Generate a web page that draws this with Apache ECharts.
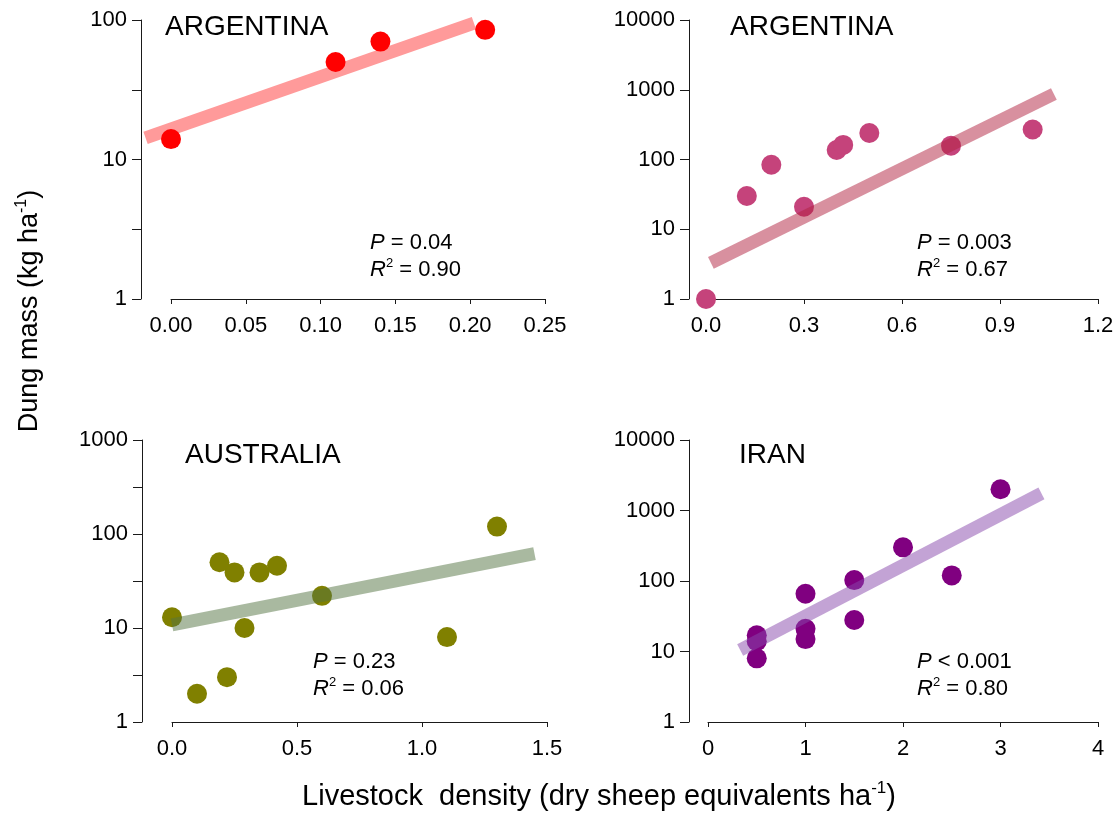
<!DOCTYPE html>
<html>
<head>
<meta charset="utf-8">
<title>Dung mass vs livestock density</title>
<script src="https://cdn.jsdelivr.net/npm/echarts@6/dist/echarts.min.js"></script>
<style>
  html, body { margin: 0; padding: 0; background: #fff; }
  #chart { width: 1118px; height: 815px; }
</style>
</head>
<body>
<div id="chart"></div>
<script>
// Livestock density (DSE ha-1) and dung mass (kg ha-1) per site
const argA_x = [0, 0.11, 0.14, 0.21];
const argA_y = [14, 50, 70, 85];
const argA_fitX = [-0.017, 0.2025];
const argA_fitY = [14.3, 95];

const argB_x = [0, 0.125, 0.2, 0.3, 0.4, 0.42, 0.5, 0.75, 1.0];
const argB_y = [1, 30, 84, 21, 137, 162, 240, 158, 269];
const argB_fitX = [0.015, 1.065];
const argB_fitY = [3.3, 870];

const aus_x = [0, 0.1, 0.19, 0.22, 0.25, 0.29, 0.35, 0.42, 0.6, 1.1, 1.3];
const aus_y = [13, 2, 50, 3, 39, 10, 39, 46, 22, 8, 120];
const aus_fitX = [0, 1.45];
const aus_fitY = [10.8, 62];

const iran_x = [0.5, 0.5, 0.5, 1, 1, 1, 1.5, 1.5, 2, 2.5, 3];
const iran_y = [17, 14, 8, 66, 21, 15, 103, 28, 300, 120, 2000];
const iran_fitX = [0.33, 3.42];
const iran_fitY = [10.5, 1750];

const panelNames = ['ARGENTINA', 'ARGENTINA', 'AUSTRALIA', 'IRAN'];
const pValues = ['= 0.04', '= 0.003', '= 0.23', '< 0.001'];
const r2Values = ['0.90', '0.67', '0.06', '0.80'];

const FONT = '"Liberation Sans", Arial, sans-serif';
const AXIS_COLOR = '#1a1a1a';

const pairs = (xs, ys) => xs.map((x, i) => [x, ys[i]]);

function isDecade(v) {
  const e = Math.log10(v);
  return Math.abs(e - Math.round(e)) < 1e-6;
}

// panel frame: grid box, y-axis offset, axis ranges.
// fitMin widens a hidden copy of the x scale so a fit line may run past the first tick.
const panels = [
  { grid: { left: 171, right: 573, top: 20, bottom: 516 }, off: 30, xmin: 0, xmax: 0.25, xint: 0.05, xdec: 2, ymax: 100, half: true, fitMin: -0.02 },
  { grid: { left: 706, right: 20, top: 20, bottom: 516 }, off: 17, xmin: 0, xmax: 1.2, xint: 0.3, xdec: 1, ymax: 10000, half: false, fitMin: 0 },
  { grid: { left: 172, right: 571, top: 440, bottom: 93 }, off: 30, xmin: 0, xmax: 1.5, xint: 0.5, xdec: 1, ymax: 1000, half: true, fitMin: 0 },
  { grid: { left: 708, right: 20, top: 440, bottom: 93 }, off: 19, xmin: 0, xmax: 4, xint: 1, xdec: 0, ymax: 10000, half: false, fitMin: 0 }
];

const styles = [
  { pt: '#ff0000', line: '#ff9a9a', lineOnTop: false },
  { pt: '#c5437b', line: 'rgba(177,33,63,0.5)', lineOnTop: true },
  { pt: '#808000', line: 'rgba(83,115,65,0.5)', lineOnTop: true },
  { pt: '#800080', line: 'rgba(135,71,171,0.5)', lineOnTop: true }
];

const scatterData = [pairs(argA_x, argA_y), pairs(argB_x, argB_y), pairs(aus_x, aus_y), pairs(iran_x, iran_y)];
const fitData = [pairs(argA_fitX, argA_fitY), pairs(argB_fitX, argB_fitY), pairs(aus_fitX, aus_fitY), pairs(iran_fitX, iran_fitY)];

const grids = [], xAxes = [], yAxes = [], series = [];

panels.forEach((p, i) => {
  grids.push(Object.assign({ containLabel: false }, p.grid));
  xAxes.push({
    type: 'value', gridIndex: i, min: p.xmin, max: p.xmax, interval: p.xint,
    splitLine: { show: false },
    axisLine: { onZero: false, lineStyle: { color: AXIS_COLOR, width: 1 } },
    axisTick: { length: 5, lineStyle: { color: AXIS_COLOR } },
    axisLabel: { color: '#000', fontSize: 22, fontFamily: FONT, margin: 16,
      formatter: v => v.toFixed(p.xdec) }
  });
  yAxes.push({
    type: 'log', logBase: 10, gridIndex: i, min: 1, max: p.ymax,
    interval: p.half ? 0.5 : 1,
    offset: p.off,
    splitLine: { show: false },
    axisLine: { show: true, onZero: false, lineStyle: { color: AXIS_COLOR, width: 1 } },
    axisTick: { show: true, length: 9, lineStyle: { color: AXIS_COLOR } },
    axisLabel: { color: '#000', fontSize: 22, fontFamily: FONT, margin: 14,
      formatter: v => isDecade(v) ? String(Math.round(v)) : '' }
  });
  const s = styles[i];
  series.push({
    type: 'scatter', xAxisIndex: i, yAxisIndex: i, data: scatterData[i],
    symbol: 'circle', symbolSize: 20, clip: false,
    itemStyle: { color: s.pt, opacity: 1 },
    z: 2
  });
});

// fit lines live on hidden axes with the same pixel scale as each panel,
// widened on the left where the line starts before x = 0
panels.forEach((p, i) => {
  const g = p.grid;
  const pxPerUnit = (1118 - g.left - g.right) / (p.xmax - p.xmin);
  const gi = grids.length;
  grids.push({ left: g.left - (p.xmin - p.fitMin) * pxPerUnit, right: g.right, top: g.top, bottom: g.bottom, containLabel: false });
  xAxes.push({ type: 'value', gridIndex: gi, min: p.fitMin, max: p.xmax, show: false });
  yAxes.push({ type: 'log', logBase: 10, gridIndex: gi, min: 1, max: p.ymax, show: false });
  const s = styles[i];
  series.push({
    type: 'line', xAxisIndex: gi, yAxisIndex: gi, data: fitData[i],
    symbol: 'none', clip: false, silent: true,
    lineStyle: { color: s.line, width: 13, cap: 'butt' },
    z: s.lineOnTop ? 3 : 1
  });
});

// panel titles and statistics
const titlePos = [[165, 27], [730, 27], [185, 455], [739, 455]];
const statPos = [[370, 243], [917, 243], [313, 662], [917, 662]];
const STAT_LH = 27;
const graphics = [];
panelNames.forEach((name, i) => {
  graphics.push({
    type: 'text', x: titlePos[i][0], y: titlePos[i][1],
    style: { text: name, fontSize: 28, fontFamily: FONT, fill: '#000', textVerticalAlign: 'middle' }
  });
  graphics.push({
    type: 'text', x: statPos[i][0], y: statPos[i][1] - STAT_LH / 2,
    style: {
      text: '{i|P} ' + pValues[i] + '\n{i|R}{sup|2} = ' + r2Values[i],
      fontSize: 22, fontFamily: FONT, fill: '#000', textVerticalAlign: 'top',
      lineHeight: STAT_LH,
      rich: {
        i: { fontStyle: 'italic', fontSize: 22, fontFamily: FONT, lineHeight: STAT_LH },
        sup: { fontSize: 13, fontFamily: FONT, verticalAlign: 'top', lineHeight: 20 }
      }
    }
  });
});

// shared axis titles
graphics.push({
  type: 'text', x: 30, y: 311, rotation: Math.PI / 2,
  style: {
    text: 'Dung mass (kg ha{sup|-1})',
    fontSize: 27, fontFamily: FONT, fill: '#000',
    textAlign: 'center', textVerticalAlign: 'middle', lineHeight: 32,
    rich: { sup: { fontSize: 16, fontFamily: FONT, verticalAlign: 'top', lineHeight: 22 } }
  }
});
graphics.push({
  type: 'text', x: 599, y: 797,
  style: {
    text: 'Livestock  density (dry sheep equivalents ha{sup|-1})',
    fontSize: 29, fontFamily: FONT, fill: '#000',
    textAlign: 'center', textVerticalAlign: 'middle', lineHeight: 34,
    rich: { sup: { fontSize: 17, fontFamily: FONT, verticalAlign: 'top', lineHeight: 24 } }
  }
});

const chart = echarts.init(document.getElementById('chart'), null, { renderer: 'canvas' });
chart.setOption({
  backgroundColor: '#fff',
  animation: false,
  grid: grids,
  xAxis: xAxes,
  yAxis: yAxes,
  series: series,
  graphic: graphics
});
</script>
</body>
</html>
